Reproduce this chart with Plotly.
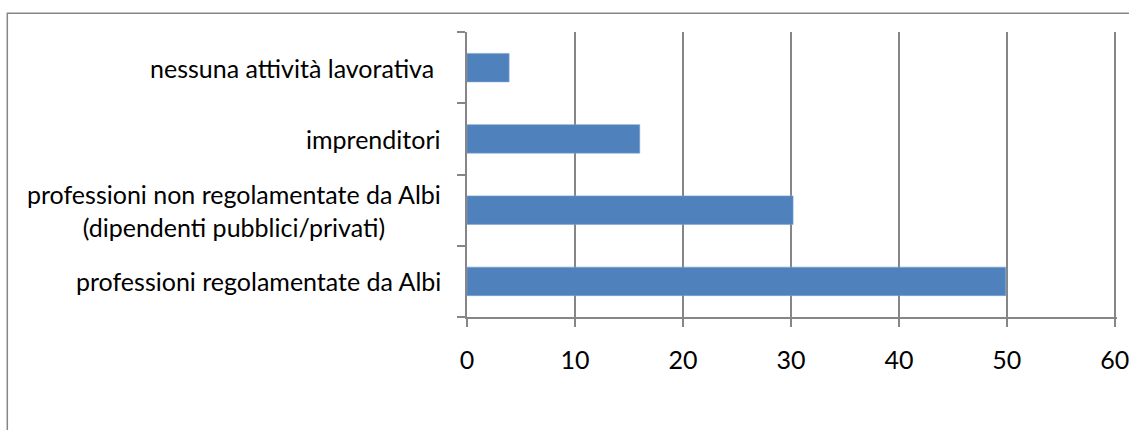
import plotly.graph_objects as go

# Data (bottom -> top)
categories = [
    "professioni regolamentate da Albi",
    "professioni non regolamentate da Albi<br>(dipendenti pubblici/privati)",
    "imprenditori",
    "nessuna attività lavorativa\u00a0",
]
values = [49.9, 30.2, 16.0, 3.9]
x_ticks = [0, 10, 20, 30, 40, 50, 60]

W, H = 1129, 430
ML, MR, MT, MB = 467, 12, 32, 113
GRAY = "#868686"
BLUE = "#4F81BD"
FONT = "Lato"
X_MAX = 60.2

fig = go.Figure()
fig.add_trace(go.Bar(
    y=list(range(len(categories))),
    x=values,
    orientation="h",
    width=0.4,
    marker=dict(color=BLUE, line=dict(color="#7EA3D3", width=0.6)),
    hoverinfo="x",
))

pw = W - ML - MR
ph = H - MT - MB

def px_to_paper_x(px):
    return (px - ML) / pw

def px_to_paper_y(py):
    return (H - MB - py) / ph

annotations = []
for i, c in enumerate(categories):
    annotations.append(dict(
        x=0, xref="paper", xanchor="right", xshift=-24,
        y=i, yref="y", yanchor="middle",
        text=c, showarrow=False, align="center",
        font=dict(family=FONT, size=25, color="#000000"),
    ))

fig.update_layout(
    width=W, height=H,
    margin=dict(l=ML, r=MR, t=MT, b=MB, pad=0, autoexpand=False),
    paper_bgcolor="white", plot_bgcolor="white",
    showlegend=False,
    bargap=0.6,
    xaxis=dict(
        range=[0, X_MAX], tickvals=x_ticks, ticktext=[str(v) for v in x_ticks],
        showgrid=True, gridcolor=GRAY, gridwidth=1.5,
        showline=True, linecolor=GRAY, linewidth=1.5,
        ticks="outside", ticklen=8, tickcolor=GRAY, tickwidth=1.5,
        tickfont=dict(family=FONT, size=25, color="#000000"),
        ticklabelstandoff=12, ticklabeloverflow="allow",
        zeroline=False, fixedrange=True, automargin=False,
    ),
    yaxis=dict(
        range=[-0.5, len(categories) - 0.5],
        tickvals=[i - 0.5 for i in range(len(categories) + 1)],
        showticklabels=False,
        showgrid=False,
        showline=True, linecolor=GRAY, linewidth=1.5,
        ticks="outside", ticklen=8, tickcolor=GRAY, tickwidth=1.5,
        zeroline=False, fixedrange=True, automargin=False,
    ),
    annotations=annotations,
    shapes=[dict(
        type="rect", xref="paper", yref="paper",
        x0=px_to_paper_x(7.3), x1=px_to_paper_x(W + 20),
        y0=px_to_paper_y(H + 20), y1=px_to_paper_y(13.3),
        line=dict(color=GRAY, width=1.5), fillcolor="rgba(0,0,0,0)",
        layer="below",
    )],
)

fig.write_html(
    "out.html",
    config={"displayModeBar": False},
    post_script="document.body.style.margin='0';document.body.style.overflow='hidden';",
)
